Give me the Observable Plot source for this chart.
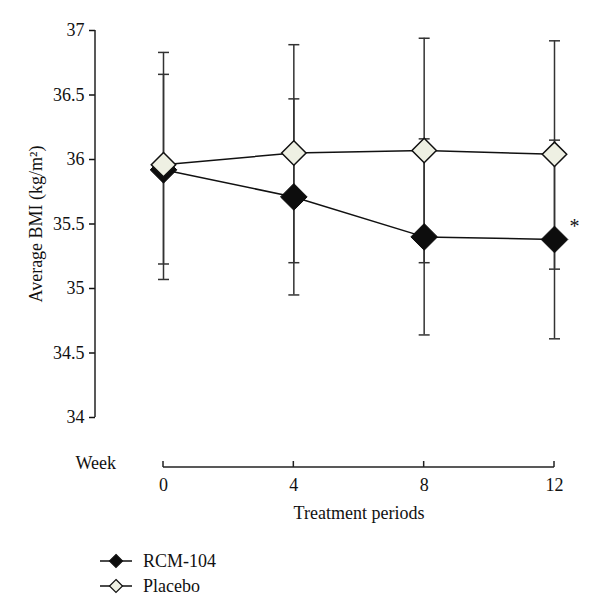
<!DOCTYPE html>
<html><head><meta charset="utf-8">
<script src="https://cdn.jsdelivr.net/npm/d3@7"></script>
<script src="https://cdn.jsdelivr.net/npm/@observablehq/plot@0.6"></script>
<style>
body{margin:0;background:#fff;}
#wrap{position:relative;width:600px;height:616px;font-family:"Liberation Serif",serif;background:#fff;}
#wrap svg{display:block;}
.leg{position:absolute;left:100px;height:20px;display:flex;align-items:center;font-size:18px;color:#111;}
.leg span{margin-left:11px;}
</style></head><body><div id="wrap"></div>
<script>
const weeks = [0, 4, 8, 12];
const groups = ["RCM-104", "Placebo"];
const rcmMean = [35.92, 35.71, 35.40, 35.38];
const rcmHi = [36.66, 36.47, 36.16, 36.15];
const rcmLo = [35.19, 34.95, 34.64, 34.61];
const plaMean = [35.96, 36.05, 36.07, 36.04];
const plaHi = [36.83, 36.89, 36.94, 36.92];
const plaLo = [35.07, 35.20, 35.20, 35.15];
const yTicks = [34, 34.5, 35, 35.5, 36, 36.5, 37];
const yLabel = "Average BMI (kg/m²)";
const xLabel = "Treatment periods";
const weekLabel = "Week";
const sigMark = "*";

const rcm = weeks.map((w, i) => ({week: w, group: groups[0], mean: rcmMean[i], hi: rcmHi[i], lo: rcmLo[i]}));
const pla = weeks.map((w, i) => ({week: w, group: groups[1], mean: plaMean[i], hi: plaHi[i], lo: plaLo[i]}));
const all = [...rcm, ...pla];
const caps = all.flatMap(d => [{week: d.week, v: d.hi}, {week: d.week, v: d.lo}]);

const capSymbol = {draw(ctx, size) { const w = Math.sqrt(size / Math.PI); ctx.moveTo(-w, 0); ctx.lineTo(w, 0); }};
const xMid = d3.mean(d3.extent(weeks));

const axisLines = (index, scales, values, dim) => {
  const g = d3.create("svg:g").attr("stroke", "#222").attr("stroke-width", 1.5).attr("fill", "none");
  const x0 = dim.marginLeft;
  g.append("line").attr("x1", x0).attr("x2", x0)
    .attr("y1", scales.y(d3.max(yTicks))).attr("y2", scales.y(d3.min(yTicks)));
  const xa = scales.y(d3.min(yTicks)) + 50;
  g.append("line").attr("x1", scales.x(weeks[0])).attr("x2", scales.x(weeks[weeks.length - 1]))
    .attr("y1", xa).attr("y2", xa);
  for (const w of weeks) g.append("line").attr("x1", scales.x(w)).attr("x2", scales.x(w)).attr("y1", xa).attr("y2", xa - 6);
  return g.node();
};

const chart = Plot.plot({
  width: 600, height: 530,
  marginTop: 30, marginLeft: 95, marginRight: 45, marginBottom: 113,
  x: {domain: [0, 12], range: [163, 554], axis: null},
  y: {domain: [34, 37]},
  style: {fontFamily: '"Liberation Serif", serif', fontSize: "18px", color: "#111", background: "white"},
  marks: [
    Plot.axisY({ticks: yTicks, tickSize: 6, tickPadding: 5, strokeWidth: 1.5, tickFormat: d => String(d),
      label: yLabel, labelAnchor: "center", labelOffset: 66, labelArrow: "none"}),
    axisLines,
    Plot.text(weeks, {x: d => d, text: d => String(d), frameAnchor: "bottom", dy: 73}),
    Plot.text([weekLabel], {frameAnchor: "bottom-left", dx: -20, dy: 51, textAnchor: "start"}),
    Plot.text([xLabel], {x: () => xMid, frameAnchor: "bottom", dy: 101}),
    Plot.ruleX(all, {x: "week", y1: "lo", y2: "hi", stroke: "#333", strokeWidth: 1.5}),
    Plot.dot(caps, {x: "week", y: "v", symbol: capSymbol, r: 5.5, fill: "none", stroke: "#333", strokeWidth: 1.5}),
    Plot.line(rcm, {x: "week", y: "mean", stroke: "#111", strokeWidth: 1.5}),
    Plot.line(pla, {x: "week", y: "mean", stroke: "#111", strokeWidth: 1.5}),
    Plot.dot(rcm, {x: "week", y: "mean", symbol: "diamond2", r: 12, fill: "#0d0d0d", stroke: "#0d0d0d", strokeWidth: 1}),
    Plot.dot(pla, {x: "week", y: "mean", symbol: "diamond2", r: 11, fill: "#eef0e3", stroke: "#111", strokeWidth: 1.5}),
    Plot.text([rcm[rcm.length - 1]], {x: "week", y: "mean", text: () => sigMark, dx: 20, dy: -13, fontSize: 20})
  ]
});
const wrap = document.getElementById("wrap");
wrap.appendChild(chart);

const legendFills = ["#0d0d0d", "#eef0e3"];
groups.forEach((g, i) => {
  const row = document.createElement("div");
  row.className = "leg";
  row.style.top = (551 + i * 25) + "px";
  const svg = d3.create("svg").attr("width", 32).attr("height", 20);
  svg.append("line").attr("x1", 0).attr("x2", 32).attr("y1", 10).attr("y2", 10).attr("stroke", "#111").attr("stroke-width", 1.5);
  svg.append("path").attr("d", "M16,3.5L22.5,10L16,16.5L9.5,10Z").attr("fill", legendFills[i]).attr("stroke", "#111").attr("stroke-width", 1.2);
  row.appendChild(svg.node());
  const t = document.createElement("span");
  t.textContent = g;
  row.appendChild(t);
  wrap.appendChild(row);
});
</script></body></html>
